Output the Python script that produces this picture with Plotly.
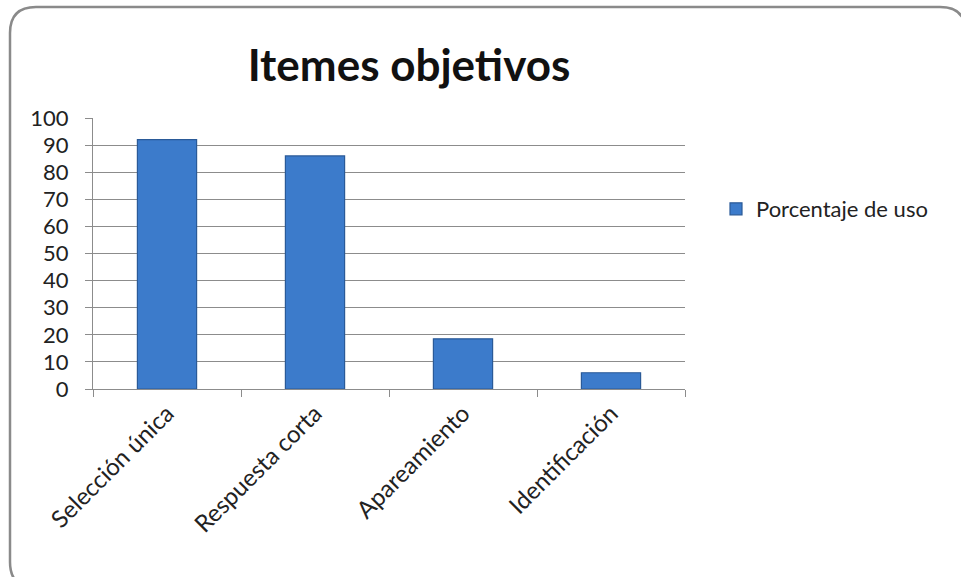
import plotly.graph_objects as go

categories = ["Selección única", "Respuesta corta", "Apareamiento", "Identificación"]
values = [92, 86, 18.5, 6]
series_name = "Porcentaje de uso"
title_text = "Itemes objetivos"

W, H = 961, 577
L, R, T, B = 93, 685, 118, 389  # plot area (px)

def px(x):
    return (x - L) / (R - L)

def py(y):
    return (B - y) / (B - T)

fig = go.Figure()
fig.add_trace(go.Bar(
    x=categories, y=values, name=series_name,
    marker=dict(color="#3C7BCB", line=dict(color="#2A5A98", width=1.2)),
    showlegend=True,
))

# rounded outer frame (partially clipped at right/bottom, as in the reference)
x0, x1, y0, y1, r = 10, 966, 7, 588, 26
path = (
    f"M {px(x0+r)},{py(y0)} L {px(x1-r)},{py(y0)} "
    f"Q {px(x1)},{py(y0)} {px(x1)},{py(y0+r)} "
    f"L {px(x1)},{py(y1-r)} Q {px(x1)},{py(y1)} {px(x1-r)},{py(y1)} "
    f"L {px(x0+r)},{py(y1)} Q {px(x0)},{py(y1)} {px(x0)},{py(y1-r)} "
    f"L {px(x0)},{py(y0+r)} Q {px(x0)},{py(y0)} {px(x0+r)},{py(y0)} Z"
)

fig.update_layout(
    width=W, height=H,
    margin=dict(l=L, r=W - R, t=T, b=H - B, pad=0, autoexpand=False),
    paper_bgcolor="white", plot_bgcolor="white",
    font=dict(family="Lato, Open Sans, sans-serif", color="#222222"),
    title=dict(text="<b>" + title_text + "</b>", x=409 / W, xanchor="center",
               y=1 - 66 / H, yanchor="middle", font=dict(size=44, color="#111111")),
    bargap=0.6,
    shapes=[dict(type="path", path=path, xref="paper", yref="paper",
                 line=dict(color="#8a8a8a", width=2.5), layer="below")],
    legend=dict(x=px(716), y=py(209), xanchor="left", yanchor="middle",
                font=dict(size=22, color="#222222"), bgcolor="rgba(0,0,0,0)"),
)
fig.update_yaxes(range=[0, 100], dtick=10, showgrid=True, gridcolor="#8c8c8c",
                 gridwidth=1, showline=True, linecolor="#8c8c8c", ticks="outside",
                 ticklen=7, tickcolor="#8c8c8c", tickfont=dict(size=22, color="#222222"),
                 ticklabelstandoff=12, zeroline=False)
fig.update_xaxes(showline=True, linecolor="#8c8c8c", ticks="outside", tickson="boundaries",
                 ticklen=7, tickcolor="#8c8c8c", tickangle=-45,
                 tickfont=dict(size=24, color="#222222"), showgrid=False)

fig.write_html("out.html", config={"displayModeBar": False},
               post_script="document.body.style.margin='0';")
